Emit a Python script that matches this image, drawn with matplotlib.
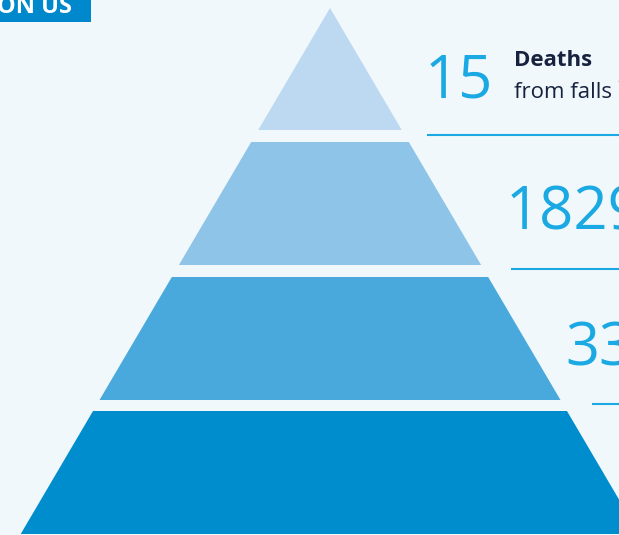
import matplotlib.pyplot as plt
from matplotlib.patches import Polygon, Rectangle

# pyramid tiers, top to bottom
tier_colors = ["#bcd9f1", "#8ec4e7", "#4aa9dc", "#008dcd"]
tier_top = [8, 142, 277, 411]
tier_bottom = [130, 265, 400, 534]

# figures shown on the right
numbers = ["15", "1829", "33"]
label_bold = "Deaths"
label_text = "from falls \u00b9"

apex_x, apex_y = 330, 8
slope = 0.588

bg = "#f1f8fc"
blue_text = "#1aa9e3"
navy = "#17223f"

plt.rcParams['font.family'] = ['Open Sans', 'DejaVu Sans']

fig = plt.figure(figsize=(6.19, 5.35), dpi=100, facecolor=bg)
ax = fig.add_axes([0, 0, 1, 1])
ax.set_facecolor(bg)
ax.set_xlim(0, 619)
ax.set_ylim(535, 0)
ax.axis("off")

for top, bottom, col in zip(tier_top, tier_bottom, tier_colors):
    ht = (top - apex_y) * slope
    hb = (bottom - apex_y) * slope
    pts = [(apex_x - ht, top), (apex_x + ht, top),
           (apex_x + hb, bottom), (apex_x - hb, bottom)]
    ax.add_patch(Polygon(pts, closed=True, facecolor=col, edgecolor="none"))

# numbers and separator lines
num_x = [425, 506, 565]
num_y = [98, 230, 365]
line_y = [135, 269, 404]
line_x = [427, 511, 592]
for n, x, y in zip(numbers, num_x, num_y):
    ax.text(x, y, n, color=blue_text, fontsize=43, va="baseline", ha="left")
for x, y in zip(line_x, line_y):
    ax.plot([x, 640], [y, y], color=blue_text, lw=1.5, solid_capstyle="butt")

ax.text(514, 66, label_bold, color=navy, fontsize=16, fontweight="bold",
        va="baseline", ha="left")
ax.text(514, 98, label_text, color=navy, fontsize=16, va="baseline", ha="left")

# cropped badge at top left
ax.add_patch(Rectangle((0, -5), 91, 27, facecolor="#0088cc", edgecolor="none"))
ax.text(-3, 13, "ON US", color="white", fontsize=17, fontweight="bold",
        va="baseline", ha="left")

fig.savefig("out.png", dpi=100, facecolor=bg)
